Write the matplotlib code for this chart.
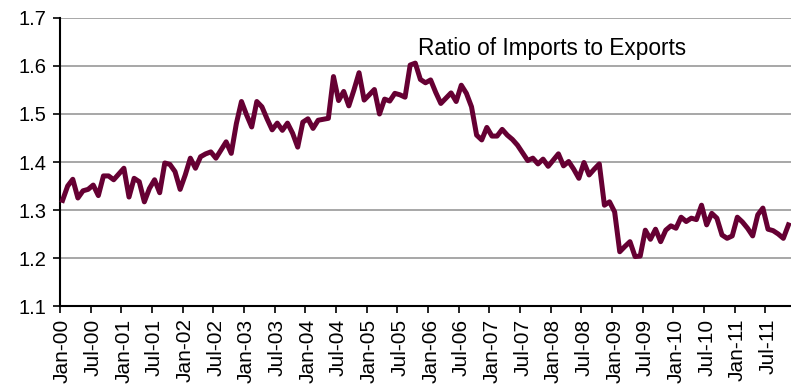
import numpy as np
import matplotlib.pyplot as plt

plt.rcParams['font.family'] = ['Liberation Sans', 'DejaVu Sans']

# monthly ratio of imports to exports, Jan-00 .. Nov-11
ratio_2000 = [1.320, 1.350, 1.364, 1.325, 1.340, 1.343, 1.352, 1.330, 1.371, 1.371, 1.363, 1.375]
ratio_2001 = [1.387, 1.327, 1.366, 1.359, 1.317, 1.345, 1.363, 1.336, 1.398, 1.395, 1.380, 1.343]
ratio_2002 = [1.373, 1.408, 1.387, 1.411, 1.417, 1.421, 1.408, 1.425, 1.442, 1.418, 1.480, 1.526]
ratio_2003 = [1.498, 1.473, 1.526, 1.515, 1.490, 1.467, 1.481, 1.466, 1.481, 1.460, 1.431, 1.483]
ratio_2004 = [1.490, 1.470, 1.487, 1.489, 1.491, 1.578, 1.528, 1.547, 1.517, 1.550, 1.586, 1.529]
ratio_2005 = [1.540, 1.551, 1.500, 1.531, 1.527, 1.543, 1.540, 1.535, 1.602, 1.606, 1.572, 1.565]
ratio_2006 = [1.571, 1.545, 1.522, 1.533, 1.544, 1.526, 1.560, 1.543, 1.515, 1.456, 1.446, 1.472]
ratio_2007 = [1.454, 1.454, 1.468, 1.456, 1.447, 1.435, 1.419, 1.403, 1.408, 1.396, 1.406, 1.391]
ratio_2008 = [1.404, 1.417, 1.392, 1.401, 1.385, 1.366, 1.399, 1.373, 1.385, 1.396, 1.310, 1.317]
ratio_2009 = [1.296, 1.213, 1.224, 1.234, 1.203, 1.204, 1.258, 1.239, 1.260, 1.234, 1.258, 1.267]
ratio_2010 = [1.262, 1.285, 1.276, 1.283, 1.280, 1.310, 1.269, 1.293, 1.283, 1.248, 1.241, 1.246]
ratio_2011 = [1.285, 1.275, 1.262, 1.246, 1.290, 1.304, 1.260, 1.257, 1.250, 1.241, 1.269]

ratio = (ratio_2000 + ratio_2001 + ratio_2002 + ratio_2003 + ratio_2004 + ratio_2005
         + ratio_2006 + ratio_2007 + ratio_2008 + ratio_2009 + ratio_2010 + ratio_2011)

tick_labels = []
for yr in range(0, 12):
    tick_labels.append('Jan-%02d' % yr)
    tick_labels.append('Jul-%02d' % yr)

y_ticks = [1.1, 1.2, 1.3, 1.4, 1.5, 1.6, 1.7]

n = len(ratio)
x = np.arange(n) + 0.5  # points sit in the middle of each month slot

fig = plt.figure(figsize=(7.91, 3.85), dpi=100)
ax = fig.add_axes([60 / 791, 1 - 306 / 385, 1 - 60 / 791, (306 - 18) / 385])

ax.plot(x, ratio, color='#660033', lw=3.6, solid_joinstyle='round', clip_on=False, zorder=3)

ax.set_xlim(0, n)
ax.set_ylim(1.1, 1.7)
ax.set_yticks(y_ticks)
ax.set_yticklabels(['%.1f' % v for v in y_ticks], fontsize=14.5)
ax.yaxis.grid(True, color='#a0a0a0', lw=1.3)
ax.set_axisbelow(True)

# tick marks on the month boundaries, labels under each half-year slot
ax.set_xticks(np.arange(0, len(tick_labels) * 6, 6))
ax.set_xticklabels([])
ax.set_xticks(np.arange(0, len(tick_labels) * 6, 6) + 0.5, minor=True)
ax.set_xticklabels(tick_labels, minor=True, rotation=90, fontsize=15)
ax.tick_params(axis='x', which='major', length=5, width=1.2, direction='out')
ax.tick_params(axis='x', which='minor', length=0, pad=9)
ax.tick_params(axis='y', length=5, width=1.2, pad=5)

for side in ['top', 'right']:
    ax.spines[side].set_visible(False)
for side in ['left', 'bottom']:
    ax.spines[side].set_linewidth(1.5)
    ax.spines[side].set_color('black')

fig.text(552 / 791, 1 - 48 / 385, 'Ratio of Imports to Exports', ha='center', va='center', fontsize=16.3)

plt.savefig('out.png', dpi=100)
